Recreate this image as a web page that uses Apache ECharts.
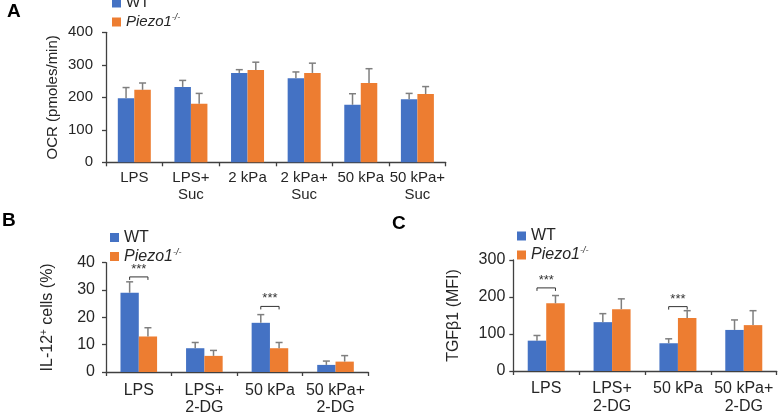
<!DOCTYPE html>
<html>
<head>
<meta charset="utf-8">
<script src="https://cdn.jsdelivr.net/npm/echarts@6/dist/echarts.min.js"></script>
<style>
html,body{margin:0;padding:0;background:#fff;}
#c{width:778px;height:416px;}
</style>
</head>
<body>
<div id="c"></div>
<script>
// ---------- data ----------
const catsA = ['LPS', 'LPS+\nSuc', '2 kPa', '2 kPa+\nSuc', '50 kPa', '50 kPa+\nSuc'];
const wtA = [197, 232, 275, 259, 177, 194];
const wtErrA = [33, 20, 10, 19, 34, 18];
const pzA = [223, 180, 284, 275, 244, 210];
const pzErrA = [21, 32, 24, 30, 44, 23];
const yTicksA = [0, 100, 200, 300, 400];

const catsB = ['LPS', 'LPS+\n2-DG', '50 kPa', '50 kPa+\n2-DG'];
const wtB = [29, 8.7, 18, 2.6];
const wtErrB = [4, 2.1, 3, 1.4];
const pzB = [13, 5.9, 8.7, 3.8];
const pzErrB = [3.2, 2, 2.1, 2.2];
const sigB = [[0, 34.8], [2, 24]];
const yTicksB = [0, 10, 20, 30, 40];

const catsC = ['LPS', 'LPS+\n2-DG', '50 kPa', '50 kPa+\n2-DG'];
const wtC = [82, 132, 75, 111];
const wtErrC = [14, 23, 12, 27];
const pzC = [183, 167, 143, 124];
const pzErrC = [21, 28, 20, 39];
const sigC = [[0, 224.6], [2, 174]];
const yTicksC = [0, 100, 200, 300];

const WT = 'WT', PZ = 'Piezo1-/-';
// ---------- styling ----------
const FONT = '"Liberation Sans", Arial, sans-serif';
const TXT = '#262626';
const AX = '#404040';
const BLUE = '#4472C4', ORANGE = '#ED7D31', ERR = '#7f7f7f';

const chart = echarts.init(document.getElementById('c'), null, {renderer: 'canvas'});

function xAxis(idx, cats, fs, lh, margin) {
  return {
    type: 'category', gridIndex: idx, data: cats,
    axisLine: {lineStyle: {color: AX, width: 1.3}},
    axisTick: {show: true, length: 4, lineStyle: {color: AX, width: 1.3}},
    axisLabel: {interval: 0, color: TXT, fontFamily: FONT, fontSize: fs, lineHeight: lh, margin: margin}
  };
}
function yAxis(idx, ticks, name, gap, fs, margin, nfs, rich) {
  return {
    type: 'value', gridIndex: idx,
    min: ticks[0], max: ticks[ticks.length - 1], interval: ticks[1] - ticks[0],
    splitLine: {show: false},
    axisLine: {show: true, lineStyle: {color: AX, width: 1.3}},
    axisTick: {show: true, length: 4, lineStyle: {color: AX, width: 1.3}},
    axisLabel: {color: TXT, fontFamily: FONT, fontSize: fs, margin: margin},
    name: name, nameLocation: 'middle', nameRotate: 90, nameGap: gap,
    nameTextStyle: {color: TXT, fontFamily: FONT, fontSize: nfs, rich: rich || {}}
  };
}
function bars(idx, name, vals, color, bw) {
  return {
    type: 'bar', name: name, xAxisIndex: idx, yAxisIndex: idx, data: vals,
    barWidth: bw, barGap: '0%', itemStyle: {color: color}, z: 2, animation: false
  };
}
function errBars(idx, vals, errs, off) {
  return {
    type: 'custom', xAxisIndex: idx, yAxisIndex: idx, z: 3, animation: false,
    data: vals.map((v, i) => [i, v, errs[i]]),
    encode: {x: 0, y: 1},
    renderItem: function (params, api) {
      const i = api.value(0), v = api.value(1), e = api.value(2);
      const b = api.coord([i, v]);
      const t = api.coord([i, v + e]);
      const cx = b[0] + off;
      const st = {stroke: ERR, lineWidth: 1.5};
      return {type: 'group', children: [
        {type: 'line', shape: {x1: cx, y1: b[1], x2: cx, y2: t[1]}, style: st},
        {type: 'line', shape: {x1: cx - 3.5, y1: t[1], x2: cx + 3.5, y2: t[1]}, style: st}
      ]};
    }
  };
}
function sigMarks(idx, sig, half) {
  return {
    type: 'custom', xAxisIndex: idx, yAxisIndex: idx, z: 4, animation: false,
    data: sig, encode: {x: 0, y: 1},
    renderItem: function (params, api) {
      const p = api.coord([api.value(0), api.value(1)]);
      const x1 = p[0] - half, x2 = p[0] + half, y = p[1];
      const st = {stroke: '#333', lineWidth: 1, fill: null};
      return {type: 'group', children: [
        {type: 'polyline', shape: {points: [[x1, y + 3], [x1, y], [x2, y], [x2, y + 3]]}, style: st},
        {type: 'text', style: {text: '***', x: p[0], y: y - 1, align: 'center', verticalAlign: 'bottom',
          font: '13px ' + FONT, fill: '#333'}}
      ]};
    }
  };
}
function legend(left, top, fs) {
  return {
    left: left, top: top, padding: 0, orient: 'vertical', icon: 'rect', itemWidth: 9, itemHeight: 9, itemGap: 1,
    data: [WT, PZ],
    selectedMode: false,
    formatter: function (n) { return n === PZ ? '{i|Piezo1}{s|-/-}' : '{n|WT}'; },
    textStyle: {
      color: TXT, fontFamily: FONT, fontSize: fs, lineHeight: 18,
      rich: {
        n: {fontFamily: FONT, fontSize: fs, lineHeight: 18, color: TXT},
        i: {fontFamily: FONT, fontSize: fs, lineHeight: 18, fontStyle: 'italic', color: TXT},
        s: {fontFamily: FONT, fontSize: 9, lineHeight: 12, fontStyle: 'italic', verticalAlign: 'top', color: TXT}
      }
    }
  };
}

const bwA = 16.5, bwB = 18.3, bwC = 18.5;
const supRich = {
  a: {fontFamily: FONT, fontSize: 16, lineHeight: 17, color: TXT},
  s: {fontFamily: FONT, fontSize: 10, lineHeight: 10, verticalAlign: 'top', color: TXT}
};

chart.setOption({
  animation: false,
  textStyle: {fontFamily: FONT},
  title: [
    {text: 'A', left: 7, top: 2, padding: 0, textStyle: {fontSize: 19, fontWeight: 'bold', color: '#000', fontFamily: FONT}},
    {text: 'B', left: 2, top: 211, padding: 0, textStyle: {fontSize: 19, fontWeight: 'bold', color: '#000', fontFamily: FONT}},
    {text: 'C', left: 392, top: 214, padding: 0, textStyle: {fontSize: 19, fontWeight: 'bold', color: '#000', fontFamily: FONT}}
  ],
  legend: [legend(112, -6, 15), legend(110, 228.5, 16), legend(517, 227, 16)],
  grid: [
    {left: 106, top: 32.3, width: 339.7, height: 130},
    {left: 106, top: 262.7, width: 262.3, height: 111.3},
    {left: 513.3, top: 260, width: 263.4, height: 112.7}
  ],
  xAxis: [
    xAxis(0, catsA, 15, 17, 7),
    xAxis(1, catsB, 16, 17, 10),
    xAxis(2, catsC, 16, 18, 9)
  ],
  yAxis: [
    yAxis(0, yTicksA, 'OCR (pmoles/min)', 46, 15, 13, 15),
    yAxis(1, yTicksB, '{a|IL-12}{s|+}{a| cells (%)}', 50, 16, 11, 16, supRich),
    yAxis(2, yTicksC, 'TGFβ1 (MFI)', 52, 16, 8, 16)
  ],
  series: [
    bars(0, WT, wtA, BLUE, bwA), bars(0, PZ, pzA, ORANGE, bwA),
    errBars(0, wtA, wtErrA, -bwA / 2), errBars(0, pzA, pzErrA, bwA / 2),
    bars(1, WT, wtB, BLUE, bwB), bars(1, PZ, pzB, ORANGE, bwB),
    errBars(1, wtB, wtErrB, -bwB / 2), errBars(1, pzB, pzErrB, bwB / 2),
    sigMarks(1, sigB, bwB / 2),
    bars(2, WT, wtC, BLUE, bwC), bars(2, PZ, pzC, ORANGE, bwC),
    errBars(2, wtC, wtErrC, -bwC / 2), errBars(2, pzC, pzErrC, bwC / 2),
    sigMarks(2, sigC, bwC / 2)
  ]
});
</script>
</body>
</html>
